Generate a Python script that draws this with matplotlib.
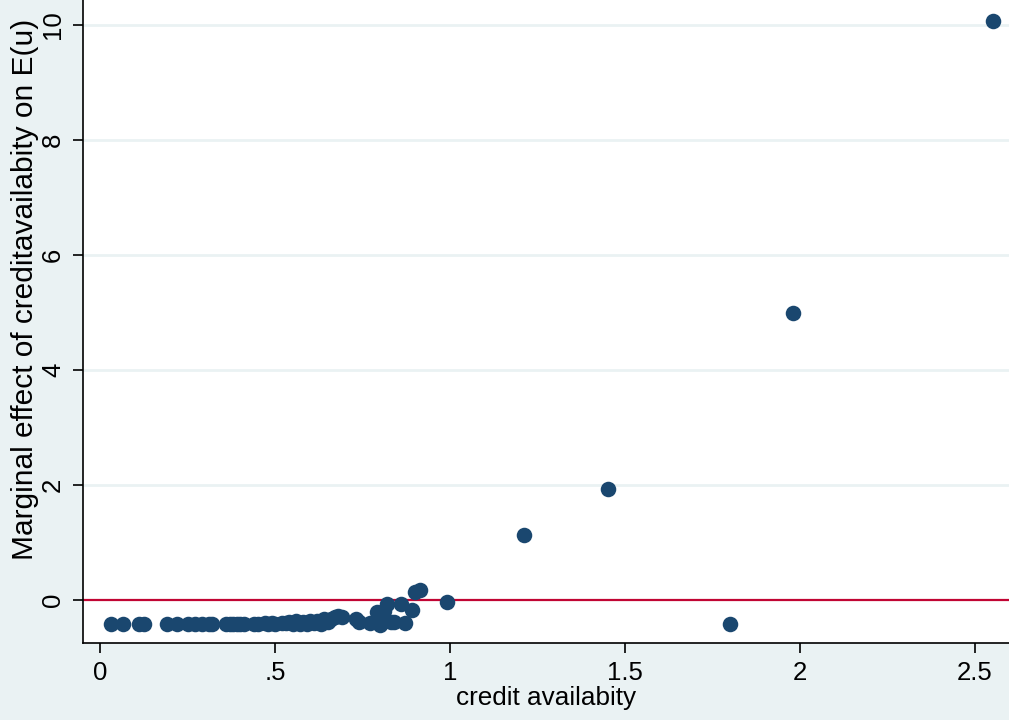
#!/usr/bin/env python3
# Marginal effect of credit availability on E(u), Stata-style scatter.
import matplotlib
matplotlib.use("Agg")
import matplotlib.pyplot as plt

credit = [0.03, 0.065, 0.11, 0.125, 0.19, 0.22, 0.25, 0.27, 0.29, 0.31,
          0.32, 0.36, 0.37, 0.38, 0.39, 0.40, 0.41, 0.44, 0.45, 0.47,
          0.48, 0.49, 0.50, 0.52, 0.53, 0.54, 0.55, 0.56, 0.57, 0.58,
          0.59, 0.60, 0.61, 0.62, 0.63, 0.64, 0.65, 0.66, 0.67, 0.68,
          0.69, 0.73, 0.74, 0.77, 0.79, 0.80, 0.81, 0.82, 0.83, 0.84,
          0.86, 0.87, 0.89, 0.90, 0.915, 0.99, 1.21, 1.45, 1.80, 1.98, 2.55]
meffect = [-0.42, -0.42, -0.42, -0.42, -0.42, -0.42, -0.42, -0.42, -0.42, -0.42,
           -0.42, -0.42, -0.42, -0.42, -0.42, -0.42, -0.42, -0.42, -0.42, -0.41,
           -0.42, -0.41, -0.42, -0.40, -0.41, -0.38, -0.42, -0.37, -0.42, -0.38,
           -0.42, -0.37, -0.41, -0.36, -0.42, -0.33, -0.38, -0.34, -0.30, -0.28,
           -0.29, -0.33, -0.38, -0.40, -0.21, -0.43, -0.20, -0.08, -0.38, -0.38,
           -0.07, -0.40, -0.17, 0.14, 0.17, -0.04, 1.13, 1.93, -0.42, 4.99, 10.07]

xticks = [0, 0.5, 1, 1.5, 2, 2.5]
xticklabels = ["0", ".5", "1", "1.5", "2", "2.5"]
yticks = [0, 2, 4, 6, 8, 10]

BG = "#eaf2f3"
NAVY = "#1a476f"
RED = "#c10534"

plt.rcParams["font.family"] = ["Liberation Sans", "DejaVu Sans"]
fig = plt.figure(figsize=(10.09, 7.2), dpi=100, facecolor=BG)
ax = fig.add_axes([0.0823, 0.107, 0.9177, 0.893])
ax.set_facecolor("white")

for y in yticks[1:]:
    ax.axhline(y, color=BG, lw=2, zorder=0)
ax.axhline(0, color=RED, lw=1.6, zorder=1)
ax.scatter(credit, meffect, s=125, color=NAVY, zorder=3, linewidths=0)

ax.set_xlim(-0.049, 2.597)
ax.set_ylim(-0.75, 10.43)
ax.set_xticks(xticks)
ax.set_xticklabels(xticklabels)
ax.set_yticks(yticks)
ax.set_yticklabels([str(y) for y in yticks], rotation=90, va="center")
ax.tick_params(direction="out", length=7, width=1.2, labelsize=18.5, pad=6)
for s in ["top", "right"]:
    ax.spines[s].set_visible(False)
ax.spines["left"].set_linewidth(1.2)
ax.spines["bottom"].set_linewidth(1.2)

ax.set_xlabel("credit availabity", fontsize=18.8, labelpad=1)
ax.set_ylabel("Marginal effect of creditavailabity on E(u)", fontsize=21.5)
ax.yaxis.set_label_coords(-0.048, 0.55)

fig.savefig("out.png", dpi=100, facecolor=BG)
